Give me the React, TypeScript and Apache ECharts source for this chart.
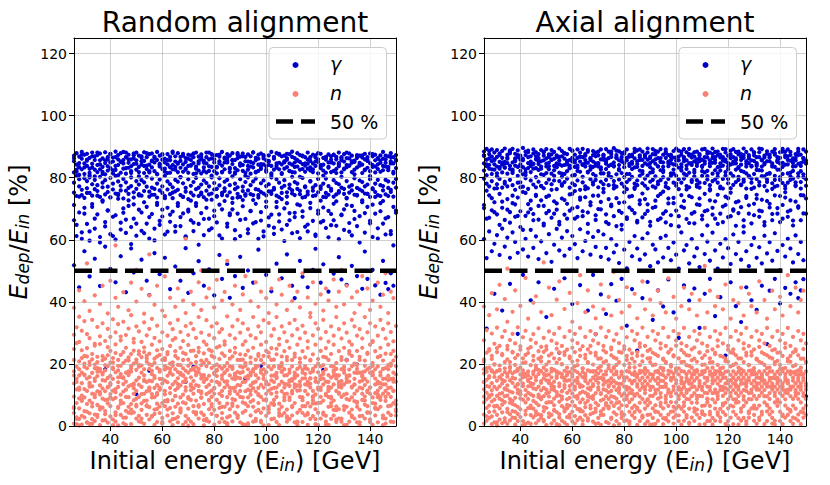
import React, { useEffect, useRef } from "react";
import * as echarts from "echarts";

// Each row: [initial energy E_in (GeV), then E_dep/E_in values in per mille (‰) read at that energy]
const randomGammaPermille: number[][] = [
  [26,853,817,871,784,752,663,518],[27,879,826,842,806,741,612],[28,834,868,809,772,795,688,447],[29,861,883,827,744,761,624],[30,812,846,874,798,735,703,563],
  [31,877,838,855,766,789,651],[32,829,864,816,751,808,597,482],[33,845,881,833,779,742,715],[34,869,804,857,793,763,636,539],[35,818,873,841,757,776,682],
  [36,856,827,878,803,738,609,451],[37,835,862,819,784,769,727],[38,882,847,811,746,792,643,578,183],[39,823,858,866,771,754,695],[40,849,876,831,799,737,618,506],
  [41,865,814,852,762,781,674],[42,838,884,825,749,806,601,463],[43,873,841,859,788,744,732],[44,816,852,879,774,759,655,547],[45,857,829,846,796,733,687],
  [46,881,866,813,758,785,622,431],[47,832,848,874,767,748,709],[48,859,821,837,801,773,641,572],[49,844,878,862,753,736,668,495],[50,826,856,881,789,764,613,103],
  [51,871,835,818,778,747,697],[52,853,869,842,742,792,629,536],[53,815,882,854,785,757,721],[54,866,839,828,771,803,652,468],[55,842,817,876,755,739,604,422,178],
  [56,878,855,833,797,768,683],[57,821,864,849,764,745,636,557],[58,857,883,812,781,736,712],[59,836,845,871,759,794,648,489],[60,874,828,858,772,751,675],
  [61,849,861,819,806,741,617,542],[62,815,876,843,788,762,703],[63,867,834,856,747,779,658,441],[64,841,880,827,769,734,691],[65,826,852,869,793,756,626,514],
  [66,879,818,845,761,787,718],[67,854,867,832,744,802,644,468],[68,819,843,877,782,738,685],[69,863,829,851,767,755,611,573,142],[70,838,874,816,795,731,697,429],
  [71,872,857,841,752,774,663],[72,847,812,866,786,743,628,492,191],[73,829,881,836,763,799,709],[74,868,846,823,741,768,651,531],[75,814,859,875,778,752,686],
  [76,855,833,848,791,737,615,452],[77,881,866,817,758,783,729],[78,837,822,859,772,746,668,505],[79,862,876,835,749,801,637],[80,821,849,872,783,762,694,421],
  [81,873,835,814,764,739,656],[82,846,868,853,798,775,713,551],[83,818,883,839,751,744,604,474],[84,865,827,861,787,766,725],[85,849,854,876,742,793,642,522],
  [86,832,871,818,776,753,679,413],[87,879,844,857,804,734,698],[88,857,817,831,763,781,631,483],[89,824,863,874,748,769,684],[90,868,839,846,795,738,612,545],
  [91,841,878,822,771,757,728,445],[92,816,853,867,786,742,667,152],[93,875,826,838,759,801,634,501],[94,851,869,813,776,747,692],[95,833,847,881,744,788,653,462],
  [96,864,819,856,797,763,716],[97,822,874,842,761,736,603,568],[98,878,835,828,782,754,662,194],[99,843,862,869,749,791,627],[100,819,856,837,773,743,706,487],
  [101,872,841,851,756,779,645],[102,838,883,814,801,748,681,434],[103,861,826,866,767,762,619],[104,846,879,832,742,795,722,523],[105,827,848,874,784,737,659],
  [106,869,815,843,768,751,633,476],[107,853,871,829,792,774,701],[108,834,858,877,753,739,648,553],[109,876,822,846,778,766,686],[110,842,867,818,759,803,621,452],
  [111,817,849,863,786,744,673,412],[112,879,836,855,764,781,714],[113,851,873,826,747,758,605,532],[114,828,844,869,799,736,692,481],[115,866,819,839,772,769,642],
  [116,845,881,858,755,746,627,447],[117,823,854,833,789,788,719],[118,874,827,846,768,741,661,503],[119,838,865,872,743,776,612,571],[120,859,814,851,796,753,684],
  [121,831,877,836,764,772,656,462],[122,864,842,823,781,738,704,521,181],[123,816,858,867,751,797,638],[124,875,835,849,773,745,693,433],[125,849,869,818,758,764,647],
  [126,822,846,874,792,739,663,491],[127,867,828,859,746,783,724],[128,843,881,837,779,757,602,544],[129,856,817,866,803,768,681,472],[130,876,852,829,764,748,632],
  [131,834,863,841,789,735,712,455,213],[132,862,839,878,752,771,654],[133,818,871,848,776,759,614,516],[134,851,826,855,745,798,693],[135,873,864,833,767,743,644,483,198],
  [136,839,848,871,791,762,676],[137,865,815,842,757,786,727,442],[138,826,877,859,772,749,623,562],[139,854,832,866,748,778,706,474],[140,878,847,821,795,738,661],
  [141,841,869,835,763,766,609,503],[142,817,856,874,781,754,684,453],[143,863,843,828,744,793,637],[144,848,872,855,776,741,718,423],[145,824,838,861,759,773,652,532],
  [146,871,859,836,793,746,617,461],[147,835,824,869,767,788,673,441],[148,879,853,846,754,761,628,492],[149,846,866,819,784,739,582,452],[150,857,831,873,768,796,694]
];
// further readings, one per row of randomGammaPermille (same order, same energy)
const randomGammaMorePermille: number[] = [
  712,648,739,603,684,751,627,706,668,742,591,723,657,694,736,612,679,748,633,701,
  665,727,586,714,652,743,688,621,706,673,745,598,719,661,697,734,626,681,752,644,
  709,673,738,607,691,726,655,718,584,747,667,703,631,729,676,741,614,698,757,652,
  685,719,602,736,664,708,747,621,693,728,657,744,689,611,723,672,756,639,705,682,
  731,596,718,663,749,687,625,711,674,738,649,702,758,617,694,726,661,737,608,683,
  716,645,752,679,698,733,626,709,667,744,591,721,686,748,653,713,738,604,692,725,
  669,741,618,706,687
];
const randomGammaMore2Permille: number[] = [
  862,819,847,874,833,858,801,869,826,881,843,812,856,837,877,824,866,808,851,883,
  831,859,815,872,845,804,864,838,879,821,853,867,811,842,876,829,857,816,884,835,
  848,802,871,826,861,839,878,814,853,867,822,846,881,807,859,833,874,818,849,863,
  828,856,813,879,841,869,806,852,836,882,817,861,844,873,825,854,809,866,838,877,
  812,849,863,821,884,835,857,803,871,846,829,866,818,852,879,841,807,864,832,858,
  874,815,847,862,827,881,839,853,811,868,843,872,824,857,805,876,836,861,819,883,
  848,831,866,814,855
];

const randomNeutronPermille: number[][] = [
  [26,42,137,8,176,95,213,61,248,294,381],[27,118,23,191,74,152,6,267,318],[28,163,57,2,124,208,89,183,271,352,437],[29,5,172,81,138,33,219,244,307],[30,201,119,28,92,164,48,226,338,402],
  [31,71,153,224,12,113,186,251,296,524],[32,134,41,197,7,82,158,207,283,371],[33,22,104,171,63,215,128,232,342],[34,186,93,16,145,37,198,259,265,421],[35,112,206,68,161,29,223,187,319],
  [36,53,131,184,102,3,177,264,289,393],[37,166,18,88,212,121,59,225,331,452],[38,217,146,38,179,84,112,196,274],[39,11,193,124,73,228,155,254,313,363],[40,103,31,162,204,64,138,242,287,468],
  [41,152,86,219,21,188,114,205,344],[42,44,173,109,235,91,14,263,302,413,582],[43,194,58,141,2,213,126,179,328,384],[44,82,229,36,167,101,194,276,288],[45,135,9,203,74,154,238,157,336,431],
  [46,211,117,49,172,27,143,252,293],[47,62,164,93,221,128,43,211,314,373],[48,175,6,132,193,71,232,186,357,462],[49,122,201,44,104,243,83,269,281],[50,24,147,181,63,113,214,206,321,401,503],
  [51,231,94,156,33,191,133,241,305],[52,73,172,12,126,222,52,195,271,442],[53,163,104,238,81,7,183,253,334,362],[54,112,36,207,142,64,226,218,292],[55,21,114,184,61,146,233,199,313,421,553],
  [56,144,196,32,92,167,103,262,345],[57,93,4,154,123,53,203,217,284,391],[58,224,72,101,13,132,187,244,323,452],[59,63,124,175,42,118,229,181,273],[60,8,137,213,74,151,26,248,302,372],
  [61,182,113,64,193,102,219,213,354,482],[62,53,238,141,34,162,84,231,291],[63,106,184,15,123,173,258,201,331,413],[64,41,83,194,165,3,205,277,312],[65,183,143,62,24,116,241,226,283,384],
  [66,72,12,123,197,154,218,174,342,443],[67,131,171,44,92,57,252,196,303],[68,4,101,163,142,186,213,236,274,404],[69,153,33,114,73,125,232,178,322,364,603],[70,194,93,56,172,23,261,214,293],
  [71,84,157,181,14,134,202,242,331,433],[72,122,64,6,145,104,243,187,312,392],[73,37,191,132,82,164,225,206,284],[74,173,113,24,184,62,252,239,351,463],[75,92,43,153,111,196,211,164,301,374,501],
  [76,142,164,71,35,2,234,203,272],[77,23,126,193,103,151,262,213,341,414],[78,162,82,54,133,14,203,246,293,443],[79,114,187,145,63,94,241,226,321],[80,52,5,104,172,123,221,168,283,382],
  [81,181,142,33,84,161,253,198,331,471],[82,104,74,192,12,133,216,257,302],[83,152,24,113,163,42,234,185,312,404],[84,13,171,62,124,193,262,226,273,432],[85,133,93,144,3,72,203,181,353,532],
  [86,192,54,163,104,32,242,217,293],[87,73,122,15,184,153,224,191,321,392],[88,124,162,84,43,112,252,236,282,452],[89,34,103,174,132,63,213,156,342],[90,171,12,94,154,192,231,213,301,374],
  [91,92,141,43,214,6,262,174,331,424],[92,143,194,112,72,4,203,229,273,483],[93,3,64,153,183,92,243,117,312],[94,163,113,34,131,172,221,204,292,402],[95,62,183,122,14,83,252,175,351],
  [96,111,23,164,194,143,214,187,283,463],[97,194,154,74,52,103,232,226,321,384],[98,43,94,133,172,12,262,213,302,433],[99,152,124,2,84,183,201,226,341],[100,82,173,104,143,33,242,174,271,412],
  [101,134,43,191,63,114,223,236,332,364],[102,183,104,22,162,73,251,213,291,443],[103,24,142,84,123,192,214,163,312],[104,124,13,171,94,154,231,249,351,392],[105,72,194,53,133,3,262,187,281,472],
  [106,174,62,143,34,112,203,224,321,423],[107,103,163,124,183,42,241,136,302],[108,53,134,14,104,164,222,212,273,374],[109,143,84,182,23,92,252,172,331,452],[110,192,34,113,152,64,213,146,292,402],
  [111,12,124,163,74,134,233,223,342],[112,163,184,43,114,3,262,131,312,433],[113,94,52,132,191,143,204,217,282,382],[114,42,153,92,13,172,241,182,323,492],[115,134,113,193,64,34,221,154,301],
  [116,183,4,74,143,102,252,132,273,414],[117,63,172,153,23,124,213,211,351,364],[118,113,92,32,184,83,231,176,292,463],[119,154,143,102,54,192,262,73,331,394],[120,3,74,173,124,43,201,216,313],
  [121,124,192,24,162,94,242,116,282,424],[122,174,43,134,82,153,223,196,342,372],[123,33,104,183,143,14,251,221,303,443],[124,142,164,62,4,113,213,94,272,404],[125,94,23,124,193,74,232,156,321],
  [126,192,134,82,34,162,262,52,291,472],[127,63,113,13,153,184,203,164,351,384],[128,163,54,142,104,24,241,126,312,433],[129,24,183,94,132,124,222,213,282,503],[130,134,3,172,64,191,252,181,331,392],
  [131,104,153,213,62,4,211,142,301,452],[132,182,84,163,14,143,233,241,272],[133,53,124,193,92,34,262,226,342,414],[134,152,172,24,134,104,201,198,321,364],[135,12,74,114,184,62,242,171,291,433],
  [136,124,143,3,53,172,223,213,312,392],[137,173,33,104,163,84,252,121,282,483],[138,82,194,132,24,152,211,176,351],[139,143,64,183,114,43,232,236,302,443],[140,43,104,13,172,124,262,188,331,374],
  [141,194,163,92,74,4,203,271,274,404],[142,72,134,153,34,183,241,106,321],[143,114,12,54,143,192,222,93,291,462],[144,163,124,173,84,62,252,226,342,384],[145,34,184,104,3,134,211,152,312,423],
  [146,134,94,24,153,113,233,187,282,492],[147,183,43,162,64,104,262,196,331,364],[148,94,152,124,194,14,201,232,303,433],[149,13,74,143,114,172,242,211,273,412],[150,143,54,193,34,82,223,166,322]
];
// further readings, one per row of randomNeutronPermille (same order, same energy)
const randomNeutronMorePermille: number[] = [
  57,142,23,98,166,11,127,74,153,36,109,171,48,85,132,3,119,62,158,27,
  94,176,41,137,68,15,103,149,82,124,31,161,55,117,8,146,79,170,22,96,
  135,51,163,13,88,128,45,174,67,106,19,152,84,39,121,178,58,97,143,28,
  112,65,169,34,131,76,157,9,101,139,47,123,17,164,86,54,147,71,108,33,
  177,92,26,129,61,155,14,115,83,168,42,136,73,6,118,151,37,99,126,64,
  173,21,107,145,52,87,162,29,133,78,12,159,95,44,124,167,59,102,138,25,
  81,148,35,113,69
];
const randomNeutronMore2Permille: number[] = [
  163,28,117,84,191,46,139,7,102,175,61,148,19,126,93,184,35,157,72,111,
  4,169,53,132,88,196,24,145,67,121,178,39,106,152,13,81,187,58,134,97,
  29,166,76,143,1,115,182,44,129,91,156,17,108,71,194,33,138,62,173,9,
  124,87,151,26,113,189,49,162,78,140,16,99,181,57,135,3,120,68,159,42,
  192,83,31,147,105,172,11,128,64,186,37,154,96,22,141,75,168,5,118,89,
  179,51,134,14,101,162,43,127,80,197,32,146,69,109,21,174,56,137,94,184,
  8,123,66,153,47
];

const axialGammaPermille: number[][] = [
  [26,884,846,871,797,823,712,602],[27,858,893,837,781,808,668,541,314],[28,876,829,862,772,841,743,627],[29,891,853,868,812,789,695,563],[30,843,881,857,765,826,721,587,426],
  [31,867,836,889,804,779,682,615],[32,829,873,851,796,834,748,551],[33,886,842,864,768,817,703,636,372],[34,851,894,833,787,846,664,578],[35,874,861,847,813,772,731,607],
  [36,838,885,879,793,828,689,542,458],[37,893,849,826,776,815,718,624],[38,862,877,854,761,839,674,593],[39,835,888,866,806,784,736,558,297],[40,871,843,858,785,822,692,641],
  [41,856,896,834,771,811,754,569,487],[42,884,827,873,809,798,677,603],[43,847,866,887,764,831,715,546],[44,869,852,838,791,818,699,632,405],[45,891,878,845,778,844,683,574],
  [46,831,859,882,802,769,741,611],[47,876,844,863,787,825,665,538,463],[48,853,889,829,773,836,727,595],[49,882,871,856,766,809,709,646],[50,845,862,892,815,783,686,557,351],
  [51,867,837,848,794,827,742,618],[52,889,858,875,779,813,671,529],[53,838,883,861,806,791,724,584,442],[54,872,846,834,763,842,697,635],[55,855,894,867,789,816,658,566,236],
  [56,886,869,839,774,803,733,607],[57,861,841,878,812,786,681,549,476],[58,843,876,854,797,821,716,628],[59,893,857,831,768,839,694,571],[60,852,887,864,782,807,748,612,393],
  [61,874,835,849,809,776,668,586],[62,839,864,891,791,832,705,541],[63,881,852,868,761,819,729,634,454],[64,866,893,843,803,785,676,563],[65,836,871,857,772,847,737,596],
  [66,889,848,884,817,766,688,623,372],[67,857,863,837,795,826,711,552],[68,873,886,852,778,812,742,609,487],[69,846,839,869,806,793,664,577,296],[70,884,872,845,769,836,699,628],
  [71,859,833,891,787,814,722,545,424],[72,867,858,874,814,779,753,617],[73,892,845,851,793,828,682,574,361],[74,838,884,863,776,806,651,537],[75,876,867,842,802,841,713,602,457],
  [76,849,895,836,765,789,676,559],[77,863,873,887,811,771,734,583,403],[78,885,841,856,794,824,693,525],[79,857,866,879,781,815,648,633,474],[80,834,882,847,771,802,721,568],
  [81,891,856,864,786,763,667,508,323],[82,868,838,873,812,794,704,593],[83,845,874,851,803,828,741,547,441],[84,883,862,893,764,781,686,612],[85,853,844,835,791,776,656,572,243],
  [86,872,891,866,823,806,715,536],[87,838,857,884,782,813,672,604,412],[88,866,846,871,774,797,731,553],[89,894,881,858,807,765,693,621,464],[90,847,868,834,816,787,645,515],
  [91,876,853,892,793,827,703,584,342],[92,859,875,845,768,804,726,569],[93,884,836,863,787,779,664,527,437],[94,863,892,852,824,792,748,606],[95,835,849,874,802,818,684,543,385],
  [96,891,864,883,771,783,656,613],[97,852,873,837,796,766,717,574,472],[98,874,857,846,814,806,679,534],[99,843,886,865,784,826,735,591,366],[100,865,841,894,806,774,694,552],
  [101,887,868,856,763,795,643,507,284],[102,834,874,843,823,784,707,624],[103,892,853,866,797,813,725,566,453],[104,856,839,882,773,808,667,583],[105,876,893,847,816,769,741,524,404],
  [106,847,865,874,786,792,684,602],[107,868,882,853,804,825,653,546,443],[108,884,846,838,792,778,714,573],[109,853,872,863,768,784,733,512,316],[110,838,857,891,821,806,678,615],
  [111,893,866,845,783,817,692,554,426],[112,865,884,877,805,794,646,594],[113,846,837,856,776,763,727,533,474],[114,876,894,864,813,789,703,623],[115,857,848,883,794,824,668,566,354],
  [116,884,873,834,784,803,745,507],[117,836,865,846,823,771,684,587,415],[118,866,855,893,765,796,657,543],[119,892,881,852,807,818,712,602,227],[120,847,836,871,796,782,734,573],
  [121,875,863,843,814,766,676,522,463],[122,852,892,866,777,805,694,617],[123,883,846,857,786,826,645,554,386],[124,834,875,884,803,793,724,593],[125,867,857,842,822,776,705,536,335],
  [126,894,864,873,794,787,663,624],[127,845,883,836,765,814,741,563,447],[128,873,847,862,806,803,684,515],[129,856,838,891,784,797,653,583,405],[130,881,872,854,812,768,716,606],
  [131,838,866,847,796,825,732,542,374],[132,866,894,882,775,786,674,576],[133,892,856,836,823,805,692,524,452],[134,847,843,865,804,773,646,613],[135,877,885,853,786,794,725,556,264],
  [136,853,867,874,813,815,704,592,436],[137,884,836,846,764,782,663,533],[138,835,874,892,793,806,743,621,474],[139,866,853,857,826,774,684,564],[140,846,882,864,802,793,657,502,395],
  [141,893,848,835,783,812,712,583],[142,872,866,884,774,765,736,546,445],[143,857,891,843,814,784,674,603],[144,883,855,873,793,804,695,572,426],[145,836,847,862,822,797,646,527],
  [146,864,876,856,785,773,723,614,463],[147,845,884,893,803,814,703,554,412],[148,874,838,847,765,786,663,593,437],[149,891,863,852,811,802,743,534,473],[150,855,846,884,795,774,684,96]
];
// further readings, one per row of axialGammaPermille (same order, same energy)
const axialGammaMorePermille: number[] = [
  702,758,671,734,689,766,648,723,781,697,655,742,714,677,769,632,751,688,726,663,
  745,709,774,652,738,693,761,684,717,649,779,728,668,746,701,757,674,736,692,763,
  651,721,785,679,742,698,764,657,731,708,776,644,719,687,753,672,739,696,768,661,
  727,749,683,714,658,772,706,741,669,755,692,733,647,718,781,676,744,703,762,654,
  737,689,771,712,666,748,695,759,681,724,651,766,707,739,673,752,698,721,686,778,
  643,735,711,764,679,745,694,729,657,758,716,683,771,702,741,668,753,691,727,662,
  776,708,744,685,733
];
const axialGammaMore2Permille: number[] = [
  871,843,886,827,859,814,878,849,832,865,888,821,854,873,838,861,817,882,846,829,
  869,852,811,884,836,875,857,824,866,843,813,879,848,831,887,856,822,868,841,876,
  819,862,835,881,847,826,873,858,815,884,839,866,828,852,877,812,845,869,833,888,
  857,821,874,842,863,818,886,837,851,824,879,846,867,813,855,832,884,861,828,872,
  841,817,859,876,835,853,822,881,848,866,814,874,839,858,827,887,845,862,831,876,
  819,853,868,836,882,843,824,857,871,812,865,838,879,851,826,884,842,869,816,858,
  837,873,821,862,847
];

const axialNeutronPermille: number[][] = [
  [26,37,118,76,169,8,141,95,183,207,276,385],[27,149,58,107,17,175,86,129,236,309],[28,93,161,26,127,66,156,45,188,248,357],[29,6,79,138,179,115,31,101,216,298,428],[30,126,47,158,85,12,171,63,199,265],
  [31,65,177,97,36,146,119,2,238,317,376],[32,157,21,128,104,57,88,181,195,258,455],[33,106,137,9,69,165,44,149,228,287],[34,25,96,174,145,77,121,15,186,306,409],[35,168,116,55,7,131,98,159,215,247,336,507],
  [36,75,18,147,111,38,176,87,206,277],[37,139,155,81,48,108,27,169,239,297,368],[38,46,127,175,91,153,67,5,197,266,437],[39,178,62,39,135,16,117,106,229,318],[40,112,166,102,29,89,148,54,189,257,387],
  [41,16,85,157,128,179,3,137,218,286],[42,159,37,116,76,49,168,98,205,307,477],[43,87,145,11,164,107,58,128,235,249,346],[44,129,102,66,7,155,138,35,196,278],[45,56,175,136,97,28,81,167,226,296,397],
  [46,147,9,47,158,119,182,75,187,268,418],[47,101,93,167,38,67,127,18,217,315],[48,35,139,86,177,145,27,115,208,255,367],[49,168,61,123,19,96,154,48,239,284,527],[50,3,117,179,105,58,75,147,198,246],
  [51,138,29,95,146,166,41,108,227,305,446],[52,77,157,36,118,8,135,176,185,275,357],[53,116,88,143,52,126,18,67,218,297],[54,176,45,6,161,97,109,155,204,266,407],[55,27,128,99,78,137,171,38,237,316,466],
  [56,95,167,64,17,157,112,86,199,258],[57,156,11,132,178,47,57,123,229,287,377],[58,57,107,164,86,29,146,4,188,246],[59,129,148,37,115,174,91,66,218,306,429],[60,15,78,159,136,105,167,46,207,276,336],
  [61,146,178,118,8,65,32,127,238,297],[62,88,55,97,155,144,19,173,196,267,396],[63,165,133,27,106,48,126,76,226,316,486],[64,47,5,128,174,86,157,111,186,257],[65,107,152,74,35,168,61,145,218,287,367],
  [66,137,96,179,121,17,102,25,206,247,437],[67,66,38,146,57,117,176,92,236,306],[68,175,129,14,97,156,87,135,198,276,385],[69,7,163,106,148,75,46,56,227,296,347],[70,117,67,139,26,125,169,154,187,266],
  [71,155,103,47,82,178,4,36,218,317,456],[72,36,147,165,118,55,133,86,205,258,376],[73,96,13,115,176,142,74,166,237,287],[74,146,87,57,63,108,127,9,196,306,416],[75,76,177,154,139,27,96,113,228,247,356],
  [76,127,44,2,166,94,145,65,186,276,496],[77,167,116,88,37,138,16,175,217,296],[78,57,136,125,156,6,107,77,206,267,406],[79,136,26,173,98,67,165,45,236,316,366],[80,85,155,105,16,146,36,127,197,257],
  [81,18,97,65,126,177,117,157,226,286,447],[82,174,122,148,46,77,7,106,188,246,386],[83,106,58,35,167,115,137,86,217,306],[84,45,164,97,146,26,174,66,207,276,426],[85,157,4,127,104,166,55,135,238,297,347],
  [86,116,147,16,75,47,95,178,196,266],[87,27,87,176,136,156,125,34,227,317,466],[88,145,117,56,6,106,168,76,187,258,376],[89,66,177,135,157,36,86,15,218,287],[90,167,37,75,116,127,146,97,206,247,407],
  [91,97,126,165,26,57,5,155,236,306,356],[92,7,67,116,175,147,105,46,198,276],[93,137,155,45,88,17,173,117,226,297,436],[94,75,106,146,36,167,65,126,188,266,396],[95,126,186,145,57,6,164,25,217,316],
  [96,26,127,76,156,136,97,87,207,258,366],[97,166,65,178,117,37,15,107,237,287,476],[98,107,77,155,96,175,46,147,197,247],[99,156,47,27,127,8,116,168,228,306,416],[100,57,147,105,176,137,76,35,186,276,346],
  [101,117,97,166,16,87,125,64,218,297],[102,146,5,56,137,156,177,106,206,266,386],[103,17,175,126,65,46,97,138,236,316,446],[104,167,116,35,155,107,27,87,196,258],[105,86,56,147,117,176,136,7,227,287,376],
  [106,137,156,96,27,75,167,125,188,247,426],[107,46,127,16,178,146,106,57,217,306],[108,175,87,117,75,37,155,97,207,276,356],[109,97,26,165,137,127,5,145,237,297,406],[110,126,167,65,47,96,116,176,197,266],
  [111,6,107,137,156,178,66,36,228,316,516],[112,155,146,86,106,16,127,76,187,258,366],[113,65,37,176,126,166,46,115,218,287,436],[114,106,137,26,5,86,147,167,206,247],[115,147,76,117,167,56,177,17,236,306,386],
  [116,36,176,156,97,136,87,107,197,276,416],[117,166,15,55,146,116,27,127,226,297],[118,116,126,97,66,155,167,45,188,266,376],[119,75,156,7,175,36,106,137,217,316,456],[120,137,57,146,117,86,16,176,207,258],
  [121,27,107,127,165,147,66,96,237,287,346],[122,176,86,46,137,6,156,116,197,247,406],[123,86,146,167,36,106,127,75,228,306],[124,127,5,117,77,175,97,155,188,276,396],[125,56,166,17,147,136,46,107,218,297,446],
  [126,156,116,177,96,65,137,26,206,266,356],[127,15,137,76,127,167,6,146,236,316],[128,147,47,106,156,27,178,87,197,258,426],[129,107,176,137,57,117,86,166,227,287,386],[130,66,97,36,167,146,127,17,187,247],
  [131,167,126,156,7,87,56,117,217,306,366],[132,117,27,97,176,137,155,66,207,276,466],[133,37,155,146,107,46,167,127,237,297],[134,137,76,6,116,177,96,147,197,266,406],[135,96,167,127,66,16,137,47,228,316,346],
  [136,175,106,57,146,156,37,87,188,258],[137,46,137,117,26,127,176,155,218,287,436],[138,127,17,166,97,76,107,5,206,247,376],[139,155,117,86,137,175,65,146,236,306],[140,76,146,46,167,106,16,127,197,276,416],
  [141,6,176,137,127,37,117,97,226,297,356],[142,146,66,107,156,167,86,27,187,266],[143,117,36,176,56,137,147,106,217,316,486],[144,167,96,16,117,46,127,176,207,258,386],[145,27,156,127,87,146,7,66,237,287],
  [146,137,107,167,175,97,56,116,197,247,446],[147,87,127,37,146,17,166,155,228,306,366],[148,176,46,117,6,127,137,76,188,276,406],[149,56,167,147,106,155,27,97,217,297,436],[150,127,117,66,137,176,87,36,206,266]
];
// further readings, one per row of axialNeutronPermille (same order, same energy)
const axialNeutronMorePermille: number[] = [
  214,187,243,226,198,251,179,232,206,258,191,237,219,184,246,203,229,176,254,211,
  195,241,222,188,257,207,233,181,249,216,199,238,173,224,252,193,211,246,185,229,
  204,258,177,236,217,192,244,209,186,253,221,197,239,175,247,213,201,234,189,226,
  255,208,182,242,219,196,231,178,250,214,203,237,191,224,259,186,245,207,228,194,
  212,253,180,236,219,198,241,205,188,231,257,174,223,209,246,192,235,201,218,183,
  249,227,196,239,176,214,255,203,232,187,221,244,199,210,237,185,252,208,226,193,
  241,179,217,248,206
];
const axialNeutronMore2Permille: number[] = [
  142,31,98,176,64,12,157,83,119,45,187,71,26,134,103,168,7,149,58,121,
  36,181,92,15,163,77,128,49,172,3,112,146,68,27,185,95,139,54,18,161,
  81,124,42,177,9,106,153,66,131,23,189,74,117,38,156,87,14,143,101,59,
  171,29,126,84,5,165,47,136,93,178,21,109,151,62,183,34,118,76,145,11,
  97,167,53,129,39,174,88,16,158,107,44,186,72,122,1,147,63,133,25,169,
  85,113,41,179,57,138,19,161,96,68,127,8,154,79,184,32,115,141,51,173,
  24,105,166,43,131
];

const panelTitles = ["Random alignment", "Axial alignment"];
const xTickValues = [40, 60, 80, 100, 120, 140];
const yTickValues = [0, 20, 40, 60, 80, 100, 120];
const xRange = [26, 150];
const yRange = [0, 125];
const thresholdPct = 50;
const legendLabels = ["γ", "n", "50 %"];

const BLUE = "#0000CD";
const SALMON = "#FA8072";
const FONT = "DejaVu Sans";
const DOT = 4.2;

// per mille -> percent; extra lists hold one more reading per row
function toPoints(rows: number[][], extras: number[][]): number[][] {
  const pts: number[][] = [];
  rows.forEach((row, r) => {
    for (let k = 1; k < row.length; k++) pts.push([row[0], row[k] / 10]);
    extras.forEach((ex) => {
      if (ex[r] !== undefined) pts.push([row[0], ex[r] / 10]);
    });
  });
  return pts;
}

const GRID_TOP = 38;
const GRID_H = 388;
const GRID_W = 322;
const GRID_LEFTS = [74, 484];

export default function App() {
  const ref = useRef<HTMLDivElement>(null);

  useEffect(() => {
    if (!ref.current) return;
    const chart = echarts.init(ref.current, undefined, { renderer: "svg" });

    const grids = GRID_LEFTS.map((left) => ({
      left,
      top: GRID_TOP,
      width: GRID_W,
      height: GRID_H,
      containLabel: false,
    }));

    const xAxes: any[] = [];
    const yAxes: any[] = [];
    [0, 1].forEach((g) => {
      xAxes.push({
        type: "value",
        gridIndex: g,
        min: xRange[0],
        max: xRange[1],
        position: "bottom",
        z: 3,
        axisLine: { show: true, onZero: false, lineStyle: { color: "#000", width: 1 } },
        axisTick: { show: true, length: 5, customValues: xTickValues, lineStyle: { color: "#000", width: 1 } },
        axisLabel: { customValues: xTickValues, fontSize: 14, color: "#000", margin: 6, fontFamily: FONT },
        splitLine: { show: true, lineStyle: { color: "rgba(176,176,176,0.6)", width: 1 } },
      });
    });
    [0, 1].forEach((g) => {
      xAxes.push({
        type: "value",
        gridIndex: g,
        min: xRange[0],
        max: xRange[1],
        position: "top",
        z: 3,
        axisLine: { show: true, onZero: false, lineStyle: { color: "#000", width: 1 } },
        axisTick: { show: false },
        axisLabel: { show: false },
        splitLine: { show: false },
      });
    });
    [0, 1].forEach((g) => {
      yAxes.push({
        type: "value",
        gridIndex: g,
        min: yRange[0],
        max: yRange[1],
        position: "left",
        z: 3,
        axisLine: { show: true, onZero: false, lineStyle: { color: "#000", width: 1 } },
        axisTick: { show: true, length: 5, customValues: yTickValues, lineStyle: { color: "#000", width: 1 } },
        axisLabel: { customValues: yTickValues, fontSize: 14, color: "#000", margin: 7, fontFamily: FONT },
        splitLine: { show: true, lineStyle: { color: "rgba(176,176,176,0.6)", width: 1 } },
      });
    });
    [0, 1].forEach((g) => {
      yAxes.push({
        type: "value",
        gridIndex: g,
        min: yRange[0],
        max: yRange[1],
        position: "right",
        z: 3,
        axisLine: { show: true, onZero: false, lineStyle: { color: "#000", width: 1 } },
        axisTick: { show: false },
        axisLabel: { show: false },
        splitLine: { show: false },
      });
    });

    const panels = [
      {
        gamma: toPoints(randomGammaPermille, [randomGammaMorePermille, randomGammaMore2Permille]),
        neutron: toPoints(randomNeutronPermille, [randomNeutronMorePermille, randomNeutronMore2Permille]),
      },
      {
        gamma: toPoints(axialGammaPermille, [axialGammaMorePermille, axialGammaMore2Permille]),
        neutron: toPoints(axialNeutronPermille, [axialNeutronMorePermille, axialNeutronMore2Permille]),
      },
    ];

    const series: any[] = [];
    panels.forEach((p, i) => {
      series.push({
        name: legendLabels[0],
        type: "scatter",
        xAxisIndex: i,
        yAxisIndex: i,
        data: p.gamma,
        symbol: "circle",
        symbolSize: DOT,
        itemStyle: { color: BLUE, opacity: 1 },
        silent: true,
        progressive: 0,
        z: 2,
      });
      series.push({
        name: legendLabels[1],
        type: "scatter",
        xAxisIndex: i,
        yAxisIndex: i,
        data: p.neutron,
        symbol: "circle",
        symbolSize: DOT,
        itemStyle: { color: SALMON, opacity: 1 },
        silent: true,
        progressive: 0,
        z: 2,
      });
      series.push({
        name: legendLabels[2],
        type: "line",
        xAxisIndex: i,
        yAxisIndex: i,
        data: [[xRange[0], thresholdPct], [xRange[1], thresholdPct]],
        symbol: "none",
        lineStyle: { color: "#000", width: 4.5, type: [18, 7.5] },
        silent: true,
        z: 4,
      });
    });

    const graphics: any[] = [];
    GRID_LEFTS.forEach((left, i) => {
      const cx = left + GRID_W / 2;
      graphics.push({
        type: "text",
        x: cx,
        y: 22,
        z: 10,
        style: {
          text: panelTitles[i],
          fontSize: 28,
          fontFamily: FONT,
          fill: "#000",
          align: "center",
          verticalAlign: "middle",
          textAlign: "center",
          textVerticalAlign: "middle",
        },
      });
      graphics.push({
        type: "text",
        x: cx,
        y: 461,
        z: 10,
        style: {
          text: "{r|Initial energy (E}{s|in}{r|) [GeV]}",
          fontFamily: FONT,
          fill: "#000",
          align: "center",
          verticalAlign: "middle",
          textAlign: "center",
          textVerticalAlign: "middle",
          rich: {
            r: { fontSize: 24, fontFamily: FONT, lineHeight: 24, fill: "#000" },
            s: { fontSize: 17, fontFamily: FONT, fontStyle: "italic", lineHeight: 12, verticalAlign: "bottom", fill: "#000" },
          },
        },
      });
      graphics.push({
        type: "text",
        x: left - 55,
        y: GRID_TOP + GRID_H / 2,
        rotation: Math.PI / 2,
        z: 10,
        style: {
          text: "{i|E}{s|dep}{r|/}{i|E}{s|in}{r| [%]}",
          fontFamily: FONT,
          fill: "#000",
          align: "center",
          verticalAlign: "middle",
          textAlign: "center",
          textVerticalAlign: "middle",
          rich: {
            i: { fontSize: 24, fontFamily: FONT, fontStyle: "italic", lineHeight: 24, fill: "#000" },
            r: { fontSize: 24, fontFamily: FONT, lineHeight: 24, fill: "#000" },
            s: { fontSize: 17, fontFamily: FONT, fontStyle: "italic", lineHeight: 12, verticalAlign: "bottom", fill: "#000" },
          },
        },
      });
      const lx = left + 195;
      graphics.push({
        type: "group",
        z: 20,
        children: [
          {
            type: "rect",
            shape: { x: lx, y: 47.5, width: 117.5, height: 91.5, r: 4 },
            style: { fill: "rgba(255,255,255,0.8)", stroke: "#cccccc", lineWidth: 1 },
            z: 20,
          },
          { type: "circle", shape: { cx: lx + 26.5, cy: 65, r: 3 }, style: { fill: BLUE }, z: 21 },
          { type: "circle", shape: { cx: lx + 26.5, cy: 94, r: 3 }, style: { fill: SALMON }, z: 21 },
          {
            type: "line",
            shape: { x1: lx + 7, y1: 121.5, x2: lx + 46, y2: 121.5 },
            style: { stroke: "#000", lineWidth: 4.5, lineDash: [17, 8] },
            z: 21,
          },
          {
            type: "text",
            x: lx + 61,
            y: 64,
            z: 21,
            style: { text: legendLabels[0], fontSize: 19, fontStyle: "italic", fontFamily: FONT, fill: "#000", align: "left", verticalAlign: "middle", textAlign: "left", textVerticalAlign: "middle" },
          },
          {
            type: "text",
            x: lx + 61,
            y: 93,
            z: 21,
            style: { text: legendLabels[1], fontSize: 19, fontStyle: "italic", fontFamily: FONT, fill: "#000", align: "left", verticalAlign: "middle", textAlign: "left", textVerticalAlign: "middle" },
          },
          {
            type: "text",
            x: lx + 61,
            y: 121.5,
            z: 21,
            style: { text: legendLabels[2], fontSize: 19, fontFamily: FONT, fill: "#000", align: "left", verticalAlign: "middle", textAlign: "left", textVerticalAlign: "middle" },
          },
        ],
      });
    });

    chart.setOption({
      animation: false,
      backgroundColor: "#ffffff",
      grid: grids,
      xAxis: xAxes,
      yAxis: yAxes,
      series,
      graphic: graphics,
    });

    return () => {
      chart.dispose();
    };
  }, []);

  return (
    <div
      ref={ref}
      style={{ position: "fixed", left: 0, top: 0, width: 830, height: 485, background: "#fff" }}
    />
  );
}
